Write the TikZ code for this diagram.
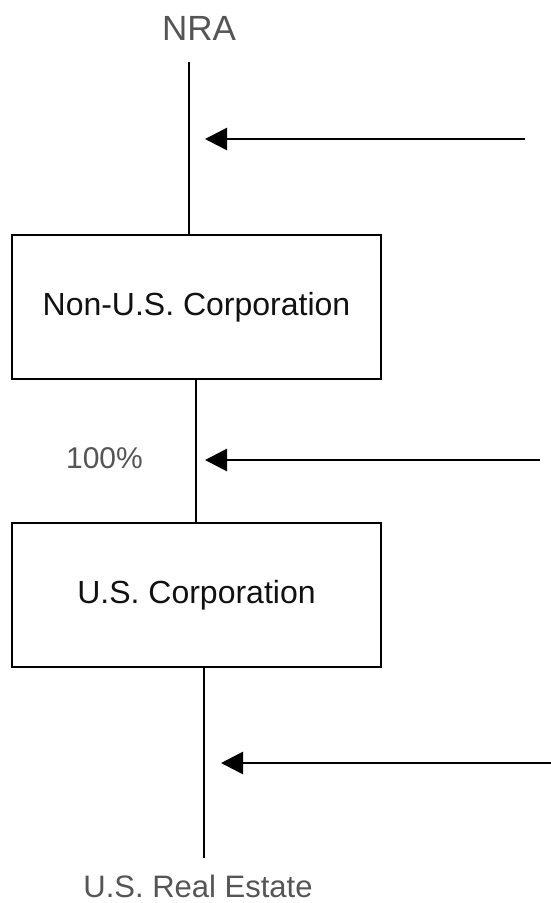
\documentclass[tikz,border=0pt]{standalone}
\usepackage{fontspec}
\setmainfont{Liberation Sans}
\usetikzlibrary{arrows.meta}
\definecolor{labelgray}{HTML}{555555}
\definecolor{inkblack}{HTML}{111111}
\begin{document}
\begin{tikzpicture}[x=1pt,y=-1pt,
  link/.style={line width=2.8pt,draw=black},
  feed/.style={line width=2.8pt,draw=black,-{Triangle[length=22pt,width=22pt]}},
  entity/.style={draw=black,line width=2.8pt,minimum width=369pt,minimum height=144pt,
    inner sep=0pt,text=inkblack,font=\fontsize{32}{38}\selectfont},
  endlabel/.style={text=labelgray,inner sep=0pt}]
  \useasboundingbox (0,0) rectangle (551,903);

  % parties and entities
  \node[endlabel,font=\fontsize{35}{40}\selectfont] (nra) at (199,28) {NRA};
  \node[entity] (corpA) at (196.5,307) {Non-U.S. Corporation};
  \node[entity] (corpB) at (196.5,595) {U.S. Corporation};
  \node[endlabel,font=\fontsize{30}{36}\selectfont] (pct) at (104.5,458) {100\%};
  \node[endlabel,font=\fontsize{31}{37}\selectfont] (estate) at (198,886.5) {U.S. Real Estate};

  % ownership chain
  \coordinate (topA) at (189,62);
  \coordinate (midA) at (196,380);
  \coordinate (lowA) at (204,667);
  \coordinate (lowB) at (204,858);
  \draw[link] (topA) -- (topA |- corpA.north);
  \draw[link] (midA) -- (midA |- corpB.north);
  \draw[link] (lowA) -- (lowB);

  % incoming flows
  \coordinate (srcA) at (525,139);
  \coordinate (tipA) at (205,139);
  \coordinate (srcB) at (540,460);
  \coordinate (tipB) at (205,460);
  \coordinate (srcC) at (551,763);
  \coordinate (tipC) at (221,763);
  \draw[feed] (srcA) -- (tipA);
  \draw[feed] (srcB) -- (tipB);
  \draw[feed] (srcC) -- (tipC);
\end{tikzpicture}
\end{document}
